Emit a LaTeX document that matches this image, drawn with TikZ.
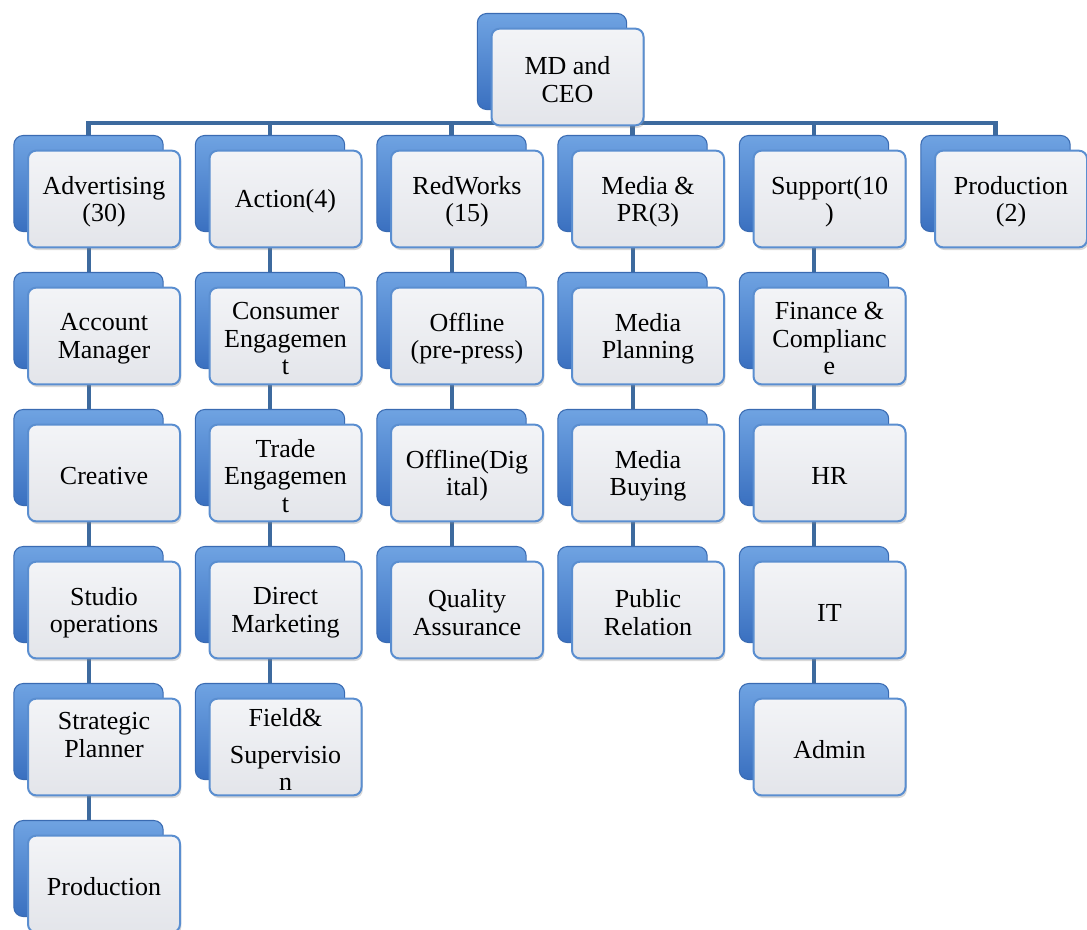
\documentclass[tikz,border=0pt]{standalone}
\usepackage{fontspec}
\setmainfont{Liberation Serif}
\usetikzlibrary{backgrounds,shadows}
\definecolor{linec}{HTML}{3D6A9E}
\definecolor{backtop}{HTML}{6FA3E2}
\definecolor{backbot}{HTML}{3A70C0}
\definecolor{backdraw}{HTML}{3A6BB2}
\definecolor{fronttop}{HTML}{F3F4F7}
\definecolor{frontbot}{HTML}{E3E5EA}
\definecolor{frontdraw}{HTML}{5A8ED0}
\tikzset{
  backbox/.style={rectangle, rounded corners=7pt, minimum width=112pt, minimum height=72pt,
    top color=backtop, bottom color=backbot, draw=backdraw, line width=0.8pt, inner sep=0pt},
  frontbox/.style={rectangle, rounded corners=6pt, minimum width=114pt, minimum height=72.5pt,
    top color=fronttop, bottom color=frontbot, draw=frontdraw, line width=1.5pt, inner sep=0pt,
    drop shadow={opacity=0.3, shadow xshift=1pt, shadow yshift=-2pt}},
  txt/.style={align=center, inner sep=0pt, font=\fontsize{19.5}{20.6}\selectfont, text=black},
  conn/.style={draw=linec, line width=3pt},
  busline/.style={draw=linec, line width=3.6pt}
}
\newcommand\card[5]{%
  \node[backbox] (#1b) at ({#2-15.5},{#3-15.5}) {};
  \node[frontbox] (#1) at (#2,#3) {};
  \node[txt, yshift=#5-2pt] (#1t) at (#1) {#4};
}
\begin{document}
\begin{tikzpicture}[x=0.75pt, y=-0.75pt]
\useasboundingbox (0,0) rectangle (1087,929);
\coordinate (bus) at (0,123);
% top
\card{md}{567.5}{77}{MD and\\CEO}{0pt}
% row 1
\card{aa}{104}{199}{Advertising\\(30)}{0pt}
\card{ba}{285.5}{199}{Action(4)}{0pt}
\card{ca}{467}{199}{RedWorks\\(15)}{0pt}
\card{da}{648}{199}{Media \&\\PR(3)}{0pt}
\card{ea}{829.5}{199}{Support(10\\)}{0pt}
\card{fa}{1011}{199}{Production\\(2)}{0pt}
% Advertising column
\card{ab}{104}{336}{Account\\Manager}{0pt}
\card{ac}{104}{473}{Creative}{0pt}
\card{ad}{104}{610}{Studio\\operations}{0pt}
\card{ae}{104}{747}{Strategic\\Planner}{11pt}
\card{af}{104}{884}{Production}{0pt}
% Action column
\card{bb}{285.5}{336}{Consumer\\Engagemen\\t}{0pt}
\card{bc}{285.5}{473}{Trade\\Engagemen\\t}{0pt}
\card{bd}{285.5}{610}{Direct\\Marketing}{0pt}
\card{be}{285.5}{747}{Field\&\\[7pt]Supervisio\\n}{0pt}
% RedWorks column
\card{cb}{467}{336}{Offline\\(pre-press)}{0pt}
\card{cc}{467}{473}{Offline(Dig\\ital)}{0pt}
\card{cd}{467}{610}{Quality\\Assurance}{0pt}
% Media column
\card{db}{648}{336}{Media\\Planning}{0pt}
\card{dc}{648}{473}{Media\\Buying}{0pt}
\card{dd}{648}{610}{Public\\Relation}{0pt}
% Support column
\card{eb}{829.5}{336}{Finance \&\\Complianc\\e}{0pt}
\card{ec}{829.5}{473}{HR}{0pt}
\card{ed}{829.5}{610}{IT}{0pt}
\card{ee}{829.5}{747}{Admin}{0pt}
\begin{pgfonlayer}{background}
  \draw[conn] (mdb.center) -- (mdb.center |- bus);
  \foreach \c in {aa,ba,ca,da,ea,fa}{
    \draw[busline] (mdb.center |- bus) -| (\c b.north);
  }
  \draw[conn] (aab.center) -- (abb.center) -- (acb.center) -- (adb.center) -- (aeb.center) -- (afb.center);
  \draw[conn] (bab.center) -- (bbb.center) -- (bcb.center) -- (bdb.center) -- (beb.center);
  \draw[conn] (cab.center) -- (cbb.center) -- (ccb.center) -- (cdb.center);
  \draw[conn] (dab.center) -- (dbb.center) -- (dcb.center) -- (ddb.center);
  \draw[conn] (eab.center) -- (ebb.center) -- (ecb.center) -- (edb.center) -- (eeb.center);
\end{pgfonlayer}
\end{tikzpicture}
\end{document}
